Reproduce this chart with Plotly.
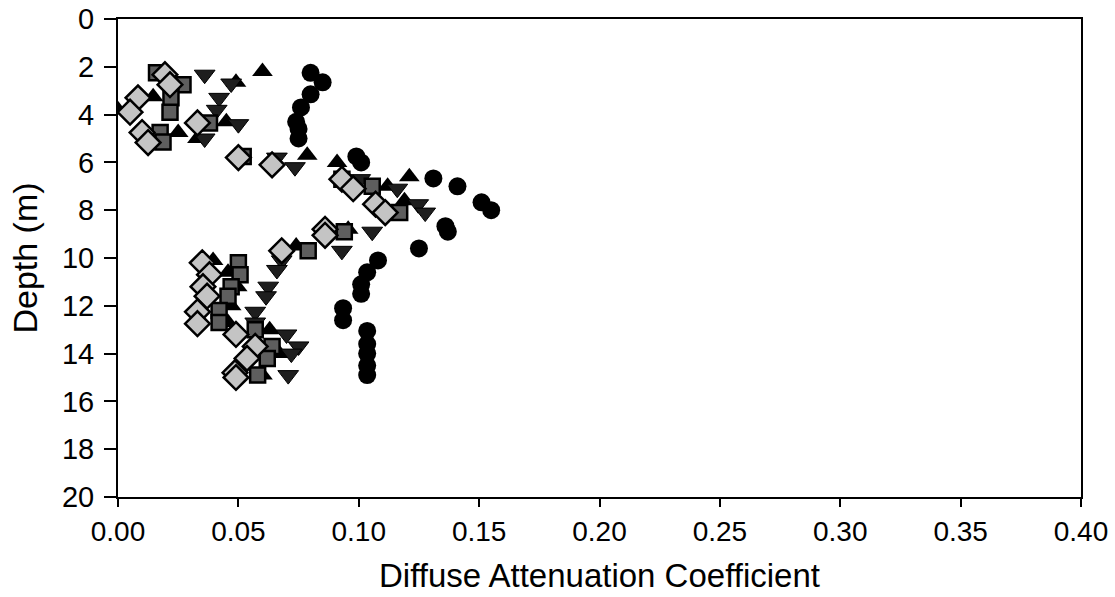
import plotly.graph_objects as go

# Series: circles (black)
circ_x = [0.080, 0.085, 0.080, 0.076, 0.074, 0.075, 0.075, 0.099, 0.101, 0.131, 0.141, 0.151, 0.155,
          0.136, 0.137, 0.125, 0.108, 0.1035, 0.101, 0.101, 0.0935, 0.0935, 0.1035, 0.1035, 0.1035,
          0.1035, 0.1035]
circ_d = [2.25, 2.65, 3.15, 3.7, 4.3, 4.6, 5.0, 5.75, 6.0, 6.67, 7.0, 7.67, 8.0,
          8.67, 8.9, 9.6, 10.1, 10.6, 11.1, 11.5, 12.1, 12.6, 13.05, 13.6, 14.0,
          14.5, 14.9]

# Series: triangle up (black)
tup_x = [0.060, 0.049, 0.0146, 0.0, 0.045, 0.025, 0.033, 0.0786, 0.091, 0.121, 0.112, 0.119,
         0.0956, 0.074, 0.0395, 0.0457, 0.0495, 0.047, 0.0457, 0.063, 0.067, 0.060]
tup_d = [2.2, 2.65, 3.25, 3.8, 4.3, 4.75, 5.0, 5.7, 6.0, 6.6, 7.0, 7.6,
         8.8, 9.5, 10.1, 10.6, 11.2, 12.0, 12.7, 13.0, 14.0, 14.9]

# Series: triangle down (black)
tdn_x = [0.036, 0.047, 0.042, 0.041, 0.050, 0.036, 0.066, 0.0735, 0.1006, 0.116, 0.1247, 0.1276,
         0.1056, 0.093, 0.068, 0.066, 0.0624, 0.0615, 0.057, 0.057, 0.070, 0.075, 0.072, 0.0707]
tdn_d = [2.33, 2.7, 3.3, 3.8, 4.4, 5.0, 5.8, 6.2, 6.7, 7.1, 7.75, 8.1,
         8.9, 9.7, 10.1, 10.5, 11.2, 11.6, 12.25, 12.7, 13.2, 13.7, 14.0, 14.9]

# Series: squares (dark patterned)
sq_x = [0.016, 0.027, 0.022, 0.0216, 0.038, 0.0175, 0.0187, 0.052, 0.093, 0.1056, 0.117, 0.094,
        0.079, 0.050, 0.0507, 0.047, 0.0457, 0.042, 0.042, 0.057, 0.064, 0.062, 0.058]
sq_d = [2.25, 2.75, 3.3, 3.9, 4.35, 4.75, 5.15, 5.75, 6.7, 7.0, 8.1, 8.9,
        9.7, 10.2, 10.7, 11.2, 11.6, 12.2, 12.7, 13.0, 13.7, 14.2, 14.9]

# Series: diamonds (light patterned)
dia_x = [0.0195, 0.0216, 0.0083, 0.005, 0.033, 0.010, 0.0125, 0.050, 0.064, 0.093, 0.0977, 0.107,
         0.111, 0.086, 0.086, 0.068, 0.035, 0.038, 0.0353, 0.037, 0.033, 0.033, 0.049, 0.057,
         0.0536, 0.0486, 0.049]
dia_d = [2.33, 2.75, 3.3, 3.9, 4.35, 4.75, 5.17, 5.8, 6.1, 6.7, 7.1, 7.75,
         8.1, 8.8, 9.05, 9.7, 10.2, 10.7, 11.2, 11.6, 12.25, 12.75, 13.2, 13.7,
         14.2, 14.8, 15.0]

x_ticks = [0.00, 0.05, 0.10, 0.15, 0.20, 0.25, 0.30, 0.35, 0.40]
x_tick_text = ["0.00", "0.05", "0.10", "0.15", "0.20", "0.25", "0.30", "0.35", "0.40"]
y_ticks = [0, 2, 4, 6, 8, 10, 12, 14, 16, 18, 20]

fig = go.Figure()
fig.add_trace(go.Scatter(x=circ_x, y=circ_d, mode="markers",
                         marker=dict(symbol="circle", size=18, color="black",
                                     line=dict(color="black", width=0))))
fig.add_trace(go.Scatter(x=tup_x, y=tup_d, mode="markers",
                         marker=dict(symbol="triangle-up", size=18, color="black",
                                     line=dict(color="black", width=0))))
fig.add_trace(go.Scatter(x=tdn_x, y=tdn_d, mode="markers",
                         marker=dict(symbol="triangle-down", size=18, color="#1e1e1e",
                                     line=dict(color="black", width=1))))
fig.add_trace(go.Scatter(x=sq_x, y=sq_d, mode="markers",
                         marker=dict(symbol="square", size=15, color="#5e5e5e",
                                     line=dict(color="black", width=2.5))))
fig.add_trace(go.Scatter(x=dia_x, y=dia_d, mode="markers",
                         marker=dict(symbol="diamond", size=19, color="#c4c4c4",
                                     line=dict(color="black", width=2.5))))

font_family = "Liberation Sans, Arial, sans-serif"
fig.update_layout(
    width=1115, height=597,
    margin=dict(l=118, r=34, t=19, b=100),
    paper_bgcolor="white", plot_bgcolor="white",
    showlegend=False,
    font=dict(family=font_family, color="black", size=24),
    xaxis=dict(range=[0, 0.40], tickvals=x_ticks, ticktext=x_tick_text, automargin=False,
               showgrid=False, zeroline=False, showline=True, linecolor="black", linewidth=2,
               mirror=True, ticks="outside", ticklen=8, tickwidth=1.5, tickcolor="black",
               tickfont=dict(family=font_family, size=28, color="black"),
               title=dict(text="Diffuse Attenuation Coefficient",
                          font=dict(size=33), standoff=18)),
    yaxis=dict(range=[20, 0], tickvals=y_ticks, automargin=False,
               showgrid=False, zeroline=False, showline=True, linecolor="black", linewidth=2,
               mirror=True, ticks="outside", ticklen=12, tickwidth=1.5, tickcolor="black",
               ticklabelstandoff=4,
               tickfont=dict(family=font_family, size=29, color="black"),
               title=dict(text="Depth (m)", font=dict(size=34), standoff=14)),
)

fig.write_html("out.html")
